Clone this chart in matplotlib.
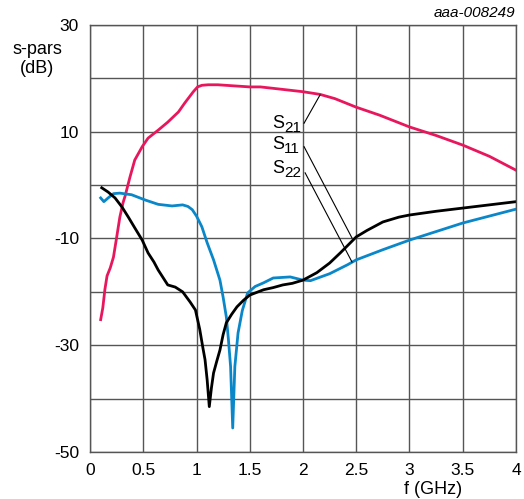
import matplotlib
matplotlib.use("Agg")
import matplotlib.pyplot as plt
from matplotlib.transforms import offset_copy

plt.rcParams['font.family'] = ['Liberation Sans', 'DejaVu Sans']

s21_f = [0.1, 0.12, 0.14, 0.16, 0.19, 0.22, 0.25, 0.28, 0.31, 0.33, 0.375, 0.42, 0.49, 0.545, 0.64,
         0.73, 0.83, 0.89, 0.97, 1.01, 1.05, 1.11, 1.2, 1.35, 1.5, 1.6, 1.78, 2.0, 2.16, 2.3,
         2.5, 2.72, 3.0, 3.25, 3.5, 3.75, 4.0]
s21_db = [-25.2, -23.0, -19.5, -17.0, -15.5, -13.5, -9.8, -6.0, -3.3, -2.0, 1.5, 4.7, 7.2, 8.8, 10.3,
          11.8, 13.7, 15.4, 17.5, 18.4, 18.7, 18.8, 18.8, 18.6, 18.4, 18.4, 18.0, 17.5, 17.0, 16.2,
          14.6, 13.1, 10.9, 9.3, 7.5, 5.4, 2.8]

s11_f = [0.11, 0.17, 0.235, 0.3, 0.36, 0.42, 0.49, 0.545, 0.6, 0.64, 0.73, 0.8, 0.87, 0.94, 0.99,
         1.03, 1.06, 1.08, 1.1, 1.12, 1.14, 1.16, 1.19, 1.22, 1.25, 1.28, 1.33, 1.38, 1.44, 1.5,
         1.63, 1.72, 1.81, 1.9, 2.0, 2.13, 2.25, 2.35, 2.5, 2.6, 2.75, 2.9, 3.0, 3.25, 3.5, 3.75, 4.0]
s11_db = [-0.5, -1.3, -2.4, -4.1, -6.0, -8.0, -10.3, -12.7, -14.4, -15.9, -18.7, -19.1, -20.0, -21.9, -23.4,
          -27.0, -30.5, -32.7, -36.5, -41.5, -38.0, -35.2, -33.0, -30.9, -28.0, -25.8, -24.2, -22.8, -21.6, -20.6,
          -19.6, -19.2, -18.7, -18.4, -17.8, -16.4, -14.6, -12.7, -9.7, -8.5, -6.9, -6.0, -5.6, -4.9, -4.3, -3.7, -3.1]

s22_f = [0.1, 0.13, 0.17, 0.22, 0.28, 0.39, 0.52, 0.64, 0.77, 0.87, 0.92, 0.96, 1.0, 1.05, 1.1,
         1.16, 1.19, 1.22, 1.25, 1.28, 1.3, 1.32, 1.34, 1.36, 1.39, 1.43, 1.48, 1.55, 1.63, 1.72,
         1.88, 2.0, 2.07, 2.25, 2.42, 2.5, 2.75, 3.0, 3.25, 3.5, 3.75, 4.0]
s22_db = [-2.4, -3.1, -2.4, -1.6, -1.5, -1.8, -2.8, -3.6, -3.9, -3.7, -4.0, -4.6, -5.8, -7.8, -10.8,
          -14.0, -15.9, -17.8, -21.0, -24.7, -29.0, -34.0, -45.5, -34.0, -27.7, -23.5, -20.2, -19.0, -18.3, -17.4,
          -17.2, -17.8, -17.9, -16.6, -14.9, -14.0, -12.1, -10.3, -8.7, -7.1, -5.8, -4.5]

x_ticks = [0, 0.5, 1, 1.5, 2, 2.5, 3, 3.5, 4]
x_labels = ["0", "0.5", "1", "1.5", "2", "2.5", "3", "3.5", "4"]
y_grid = [-50, -40, -30, -20, -10, 0, 10, 20, 30]
y_labels = ["-50", "", "-30", "", "-10", "", "10", "", "30"]

label_main = ["S", "S", "S"]
label_sub = ["21", "11", "22"]
label_y = [11.55, 7.53, 3.13]
label_x = 1.709

fig = plt.figure(figsize=(5.24, 4.99), dpi=100)
ax = fig.add_axes([0.1718, 0.0942, 0.8129, 0.8557])

ax.set_xlim(0, 4)
ax.set_ylim(-50, 30)
ax.set_xticks(x_ticks)
ax.set_xticklabels(x_labels)
ax.set_yticks(y_grid)
ax.set_yticklabels(y_labels)
ax.tick_params(length=0, labelsize=12.5, pad=8)
ax.grid(True, color='#555555', linewidth=1.0)
ax.set_axisbelow(True)
for sp in ax.spines.values():
    sp.set_color('#555555')
    sp.set_linewidth(1.0)

ax.plot(s21_f, s21_db, color='#e8175d', lw=2.0, solid_joinstyle='round')
ax.plot(s22_f, s22_db, color='#0a87c9', lw=2.0, solid_joinstyle='round')
ax.plot(s11_f, s11_db, color='black', lw=2.0, solid_joinstyle='round')

# annotations
sub_tr = offset_copy(ax.transData, fig=fig, x=12, y=-4.5, units='dots')
for m, s, yy in zip(label_main, label_sub, label_y):
    ax.text(label_x, yy, m, ha='left', va='center', fontsize=13)
    ax.text(label_x, yy, s, ha='left', va='center', fontsize=11, transform=sub_tr)
ax.plot([2.01, 2.16], [11.6, 16.9], color='black', lw=0.8)
ax.plot([2.01, 2.46], [7.2, -9.9], color='black', lw=0.8)
ax.plot([2.02, 2.46], [2.3, -14.4], color='black', lw=0.8)

fig.text(37 / 524, 1 - 59 / 499, "s-pars\n(dB)", ha='center', va='center', fontsize=13, linespacing=1.15)
fig.text(433 / 524, 1 - 489 / 499, "f (GHz)", ha='center', va='center', fontsize=13)
fig.text(515 / 524, 1 - 13 / 499, "aaa-008249", ha='right', va='center', fontsize=11, style='italic')

fig.savefig("out.png", dpi=100)
